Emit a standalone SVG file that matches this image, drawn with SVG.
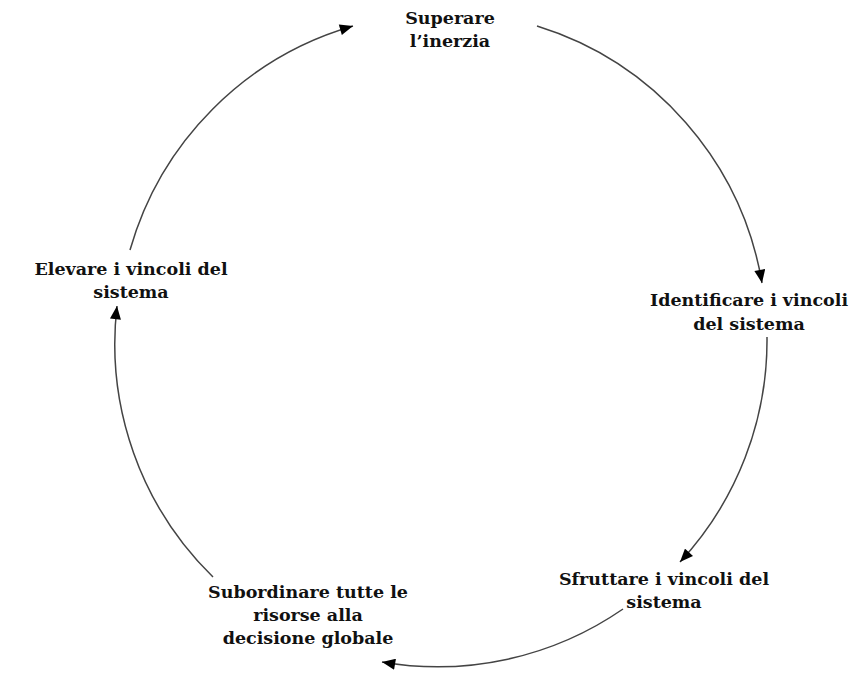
<svg xmlns="http://www.w3.org/2000/svg" width="851" height="679" viewBox="0 0 851 679">
  <style>
    .lbl { font-family: "DejaVu Serif", "Liberation Serif", serif; font-weight: bold; font-size: 17.5px; fill: #111; text-anchor: middle; }
    .arc { fill: none; stroke: #444; stroke-width: 1.5; }
  </style>
  <defs>
    <marker id="head" viewBox="0 0 12 10" refX="12" refY="5" markerWidth="14" markerHeight="11" markerUnits="userSpaceOnUse" orient="auto">
      <path d="M0,0 L12,5 L0,10 Z" fill="#000"/>
    </marker>
  </defs>
  <rect width="851" height="679" fill="#fff"/>

  <g id="connectors">
    <path class="arc" d="M537,26 A326,326 0 0 1 762,283" marker-end="url(#head)"/>
    <path class="arc" d="M767,337 A326,326 0 0 1 680,562" marker-end="url(#head)"/>
    <path class="arc" d="M623,609 A326,326 0 0 1 382,662" marker-end="url(#head)"/>
    <path class="arc" d="M213,577 A326,326 0 0 1 117,306" marker-end="url(#head)"/>
    <path class="arc" d="M130,250 A326,326 0 0 1 353,26" marker-end="url(#head)"/>
  </g>

  <g id="superare">
    <text class="lbl" x="450" y="24">Superare</text>
    <text class="lbl" x="450" y="47">l’inerzia</text>
  </g>
  <g id="identificare">
    <text class="lbl" x="749" y="306">Identificare i vincoli</text>
    <text class="lbl" x="749" y="330">del sistema</text>
  </g>
  <g id="sfruttare">
    <text class="lbl" x="664" y="585">Sfruttare i vincoli del</text>
    <text class="lbl" x="664" y="608">sistema</text>
  </g>
  <g id="subordinare">
    <text class="lbl" x="308" y="598">Subordinare tutte le</text>
    <text class="lbl" x="308" y="621">risorse alla</text>
    <text class="lbl" x="308" y="644">decisione globale</text>
  </g>
  <g id="elevare">
    <text class="lbl" x="131" y="275">Elevare i vincoli del</text>
    <text class="lbl" x="131" y="298">sistema</text>
  </g>
</svg>
